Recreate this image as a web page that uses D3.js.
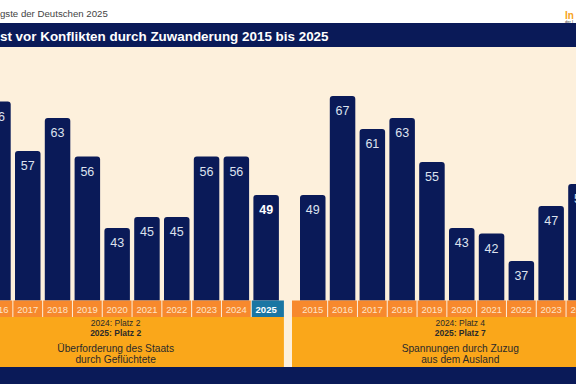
<!DOCTYPE html>
<html><head><meta charset="utf-8">
<script src="https://cdn.jsdelivr.net/npm/d3@7"></script>
<style>html,body{margin:0;padding:0;background:#fff;overflow:hidden}svg{display:block}</style>
</head><body>
<script>
const years = [2015,2016,2017,2018,2019,2020,2021,2022,2023,2024,2025];
const valuesGefluechtete = [50,66,57,63,56,43,45,45,56,56,49];
const valuesZuzug = [49,67,61,63,55,43,42,37,47,51,44];
const panelTitles = [["Überforderung des Staats","durch Geflüchtete"],["Spannungen durch Zuzug","aus dem Ausland"]];
const rank2024 = ["2024: Platz 2","2024: Platz 4"];
const rank2025 = ["2025: Platz 2","2025: Platz 7"];
const subtitle = "Die größten Ängste der Deutschen 2025";
const title = "Angst vor Konflikten durch Zuwanderung 2015 bis 2025";

const W=576,H=384;
const C={navy:"#0a1a58",cream:"#fdf0dc",orange:"#f7892d",yellow:"#faa71a",teal:"#1a76a3",logo:"#f6a31b"};
const font="'Liberation Sans', Arial, Helvetica, sans-serif";
const svg=d3.select("body").append("svg").attr("width",W).attr("height",H).style("font-family",font);

svg.append("rect").attr("width",W).attr("height",H).attr("fill","#fff");

// text fitted so that the visible part (after a hidden prefix) spans [0, endX]
function fitted(str, prefix, endX, baseY, attrs){
  const t=svg.append("text").attr("y",baseY).attr("font-size",14);
  Object.entries(attrs).forEach(([k,v])=>t.attr(k,v));
  t.text(str);
  const full=t.node().getComputedTextLength();
  const tmp=svg.append("text").attr("font-size",14);
  Object.entries(attrs).forEach(([k,v])=>tmp.attr(k,v));
  tmp.text(prefix);
  const pre=tmp.node().getComputedTextLength(); tmp.remove();
  const k=endX/(full-pre);
  t.attr("font-size",14*k).attr("x",-pre*k);
  return t;
}

svg.append("rect").attr("x",0).attr("y",23).attr("width",W).attr("height",24).attr("fill",C.navy);
svg.append("rect").attr("x",0).attr("y",47).attr("width",W).attr("height",320).attr("fill",C.cream);
svg.append("rect").attr("x",0).attr("y",367).attr("width",W).attr("height",17).attr("fill",C.navy);

fitted(subtitle,"Die größten Än",108,17,{fill:"#444"});
fitted(title,"Ang",329,40.5,{fill:"#fff","font-weight":"bold"});
svg.append("text").attr("x",565).attr("y",18.5).attr("font-size",10).attr("font-weight","bold").attr("fill",C.logo).text("In");
svg.append("text").attr("x",565).attr("y",23).attr("font-size",4).attr("fill","#333").text("der I");

const y=d3.scaleLinear().domain([0,57]).range([464.5,151]);
const bandTop=300.5, bandBot=317, yellowBot=367;

const panels=[{x0:-52.6,vals:valuesGefluechtete,i:0},{x0:292,vals:valuesZuzug,i:1}];
panels.forEach(p=>{
  const x=d3.scaleBand().domain(years).range([p.x0+8,p.x0+8+323.5]).paddingInner(1-25.5/29.8).paddingOuter(0);
  const x1=p.x0+336.5;
  const g=svg.append("g");
  const data=years.map((yr,k)=>({yr,v:p.vals[k],k}));
  g.selectAll("path.bar").data(data).join("path").attr("fill",C.navy)
    .attr("d",d=>{const bx=x(d.yr),bw=x.bandwidth(),t=y(d.v),r=3;
      return `M${bx},${bandTop}V${t+r}Q${bx},${t} ${bx+r},${t}H${bx+bw-r}Q${bx+bw},${t} ${bx+bw},${t+r}V${bandTop}Z`;});
  g.selectAll("text.val").data(data).join("text")
    .attr("x",d=>x(d.yr)+x.bandwidth()/2).attr("y",d=>y(d.v)+19)
    .attr("text-anchor","middle").attr("font-size",12.5)
    .attr("font-weight",d=>d.yr===2025?"bold":"normal")
    .attr("fill",d=>d.yr===2025?"#fff":"#dde2ee").text(d=>d.v);
  const step=x.step(), gap=(step-x.bandwidth())/2;
  const cellA=d=>d.k===0?p.x0:x(d.yr)-gap+0.5;
  const cellB=d=>d.k===years.length-1?x1:x(d.yr)+x.bandwidth()+gap-0.5;
  g.selectAll("rect.cell").data(data).join("rect")
    .attr("x",cellA).attr("width",d=>cellB(d)-cellA(d))
    .attr("y",bandTop).attr("height",bandBot-bandTop)
    .attr("fill",d=>(d.yr===2025&&p.i===0)?C.teal:C.orange);
  g.selectAll("text.yr").data(data).join("text")
    .attr("x",d=>x(d.yr)+x.bandwidth()/2).attr("y",312.5)
    .attr("text-anchor","middle").attr("font-size",9.5)
    .attr("font-weight",d=>(d.yr===2025&&p.i===0)?"bold":"normal")
    .attr("fill",d=>(d.yr===2025&&p.i===0)?"#fff":"#fde4c6").text(d=>d.yr);
  g.append("rect").attr("x",p.x0).attr("y",bandBot).attr("width",x1-p.x0).attr("height",yellowBot-bandBot).attr("fill",C.yellow);
  const cx=(p.x0+x1)/2;
  g.append("text").attr("x",cx).attr("y",326).attr("text-anchor","middle").attr("font-size",8.5).attr("fill","#2a2a2a").text(rank2024[p.i]);
  g.append("text").attr("x",cx).attr("y",336).attr("text-anchor","middle").attr("font-size",8.5).attr("font-weight","bold").attr("fill","#2a2a2a").text(rank2025[p.i]);
  g.append("text").attr("x",cx).attr("y",351.5).attr("text-anchor","middle").attr("font-size",10.2).attr("fill","#2a2a2a").text(panelTitles[p.i][0]);
  g.append("text").attr("x",cx).attr("y",362.5).attr("text-anchor","middle").attr("font-size",10.2).attr("fill","#2a2a2a").text(panelTitles[p.i][1]);
});
</script>
</body></html>
